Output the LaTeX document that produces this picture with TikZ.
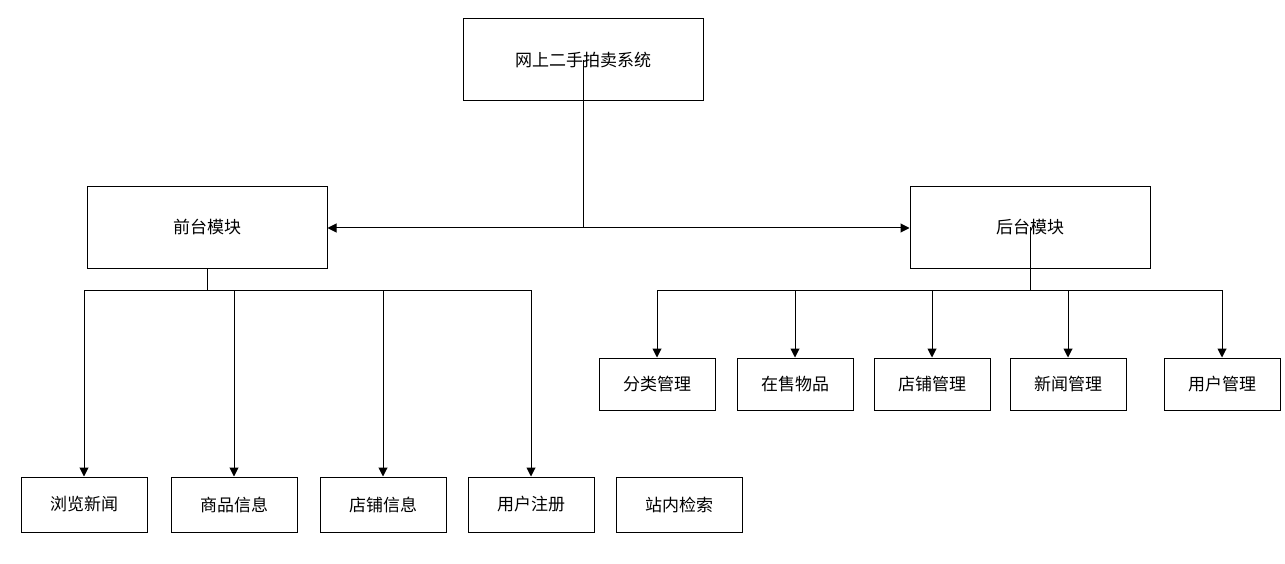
\documentclass[tikz,border=0pt]{standalone}
\usepackage{fontspec}
\newfontfamily\cjk{Noto Sans CJK SC}
\usetikzlibrary{arrows.meta}

\begin{document}
\begin{tikzpicture}[x=1pt,y=-1pt,line width=1pt,
  box/.style={draw,rectangle,font=\cjk\fontsize{17}{19}\selectfont,inner sep=0pt},
  big/.style={box,minimum width=240pt,minimum height=81pt},
  leaf/.style={box,minimum width=126pt,minimum height=55pt},
  mgr/.style={box,minimum width=116pt,minimum height=52pt},
  tip/.style={-{Triangle[length=9pt,width=9pt]}}]
\useasboundingbox (0,0) rectangle (1285,564);
\node[big,minimum height=82pt] (sys) at (583,60) {网上二手拍卖系统};
\node[big] (front) at (207,227.5) {前台模块};
\node[big] (back) at (1030,227.5) {后台模块};
\node[leaf] (news) at (84,504.5) {浏览新闻};
\node[leaf] (goods) at (234,504.5) {商品信息};
\node[leaf] (shop) at (383,504.5) {店铺信息};
\node[leaf] (reg) at (531,504.5) {用户注册};
\node[leaf] (search) at (679,504.5) {站内检索};
\node[mgr] (cat) at (657,384) {分类管理};
\node[mgr] (sale) at (795,384) {在售物品};
\node[mgr] (shopm) at (932,384) {店铺管理};
\node[mgr] (newsm) at (1068,384) {新闻管理};
\node[mgr] (userm) at (1222,384) {用户管理};
\coordinate (split) at (583,228);
\coordinate (fbus) at (207,290);
\coordinate (bbus) at (1030,290);
\draw (sys.center) -- (split);
\draw[tip] (split) -- (front.east |- split);
\draw[tip] (split) -- (back.west |- split);
\draw (front.south) -- (fbus);
\draw[tip] (fbus) -| (news.north);
\draw[tip] (fbus) -| (goods.north);
\draw[tip] (fbus) -| (shop.north);
\draw[tip] (fbus) -| (reg.north);
\draw (back.center) -- (bbus);
\draw[tip] (bbus) -| (cat.north);
\draw[tip] (bbus) -| (sale.north);
\draw[tip] (bbus) -| (shopm.north);
\draw[tip] (bbus) -| (newsm.north);
\draw[tip] (bbus) -| (userm.north);
\end{tikzpicture}
\end{document}
